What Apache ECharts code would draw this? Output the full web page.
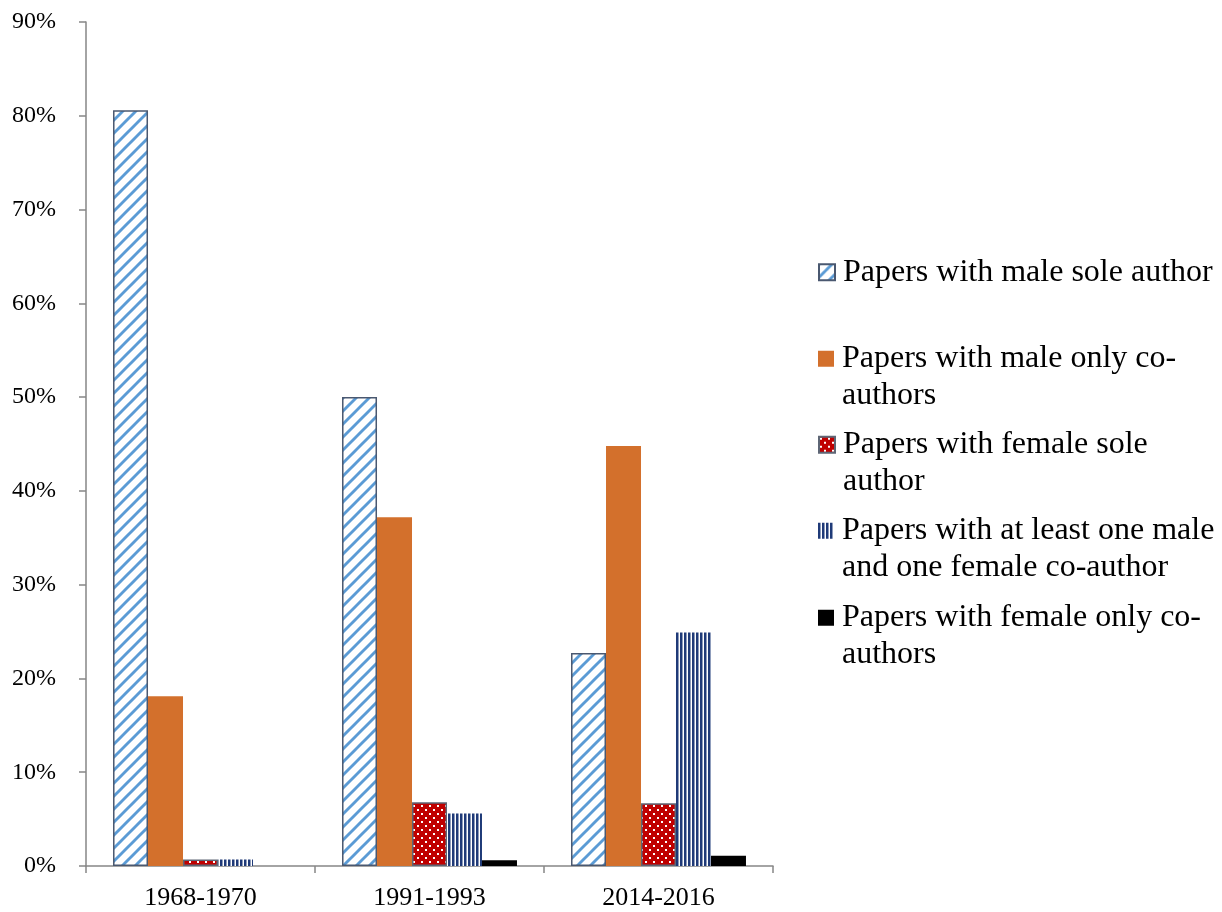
<!DOCTYPE html>
<html>
<head>
<meta charset="utf-8">
<script src="https://cdn.jsdelivr.net/npm/echarts@6/dist/echarts.min.js"></script>
<style>
  html, body { margin: 0; padding: 0; background: #ffffff; }
  #chart { width: 1222px; height: 912px; }
</style>
</head>
<body>
<div id="chart"></div>
<script>
// Share of papers by authorship gender mix, three periods (percent)
const periods = ['1968-1970', '1991-1993', '2014-2016'];
const seriesNames = [
  'Papers with male sole author',
  'Papers with male only co-authors',
  'Papers with female sole author',
  'Papers with at least one male and one female co-author',
  'Papers with female only co-authors'
];
const legendLines = [
  ['Papers with male sole author'],
  ['Papers with male only co-', 'authors'],
  ['Papers with female sole', 'author'],
  ['Papers with at least one male', 'and one female co-author'],
  ['Papers with female only co-', 'authors']
];
const maleSole = [80.6, 50.0, 22.7];
const maleOnlyCo = [18.1, 37.2, 44.8];
const femaleSole = [0.7, 6.8, 6.7];
const mixedCo = [0.7, 5.6, 24.9];
const femaleOnlyCo = [0.0, 0.6, 1.1];
const yTicks = [0, 10, 20, 30, 40, 50, 60, 70, 80, 90];

const FONT = '"Liberation Serif", "Times New Roman", serif';

function tile(w, h, draw) {
  const c = document.createElement('canvas');
  c.width = w; c.height = h;
  draw(c.getContext('2d'), w, h);
  return { image: c, repeat: 'repeat' };
}

// upward diagonal stripes on white
const diagFill = tile(13, 13, (g, w, h) => {
  g.fillStyle = '#ffffff';
  g.fillRect(0, 0, w, h);
  g.strokeStyle = '#5B9BD5';
  g.lineWidth = 2.9;
  for (let o = -w; o <= w; o += w) {
    g.beginPath();
    g.moveTo(o - 2, h + 2);
    g.lineTo(o + w + 2, -2);
    g.stroke();
  }
});

// white dots on dark red
const dotFill = tile(8, 8, (g, w, h) => {
  g.fillStyle = '#C00000';
  g.fillRect(0, 0, w, h);
  g.fillStyle = '#ffffff';
  g.fillRect(1, 1, 2, 2);
  g.fillRect(5, 5, 2, 2);
});

// narrow vertical navy stripes on white
const vertFill = tile(4, 4, (g, w, h) => {
  g.fillStyle = '#ffffff';
  g.fillRect(0, 0, w, h);
  g.fillStyle = '#1F3A78';
  g.fillRect(0, 0, 2.5, h);
});

const seriesData = [maleSole, maleOnlyCo, femaleSole, mixedCo, femaleOnlyCo];
const seriesStyles = [
  { color: diagFill, borderColor: '#4A5870', borderWidth: 1.5 },
  { color: '#D3702C' },
  { color: dotFill, borderColor: '#5E6675', borderWidth: 1.5 },
  { color: vertFill },
  { color: '#000000' }
];

const series = seriesNames.map((name, i) => ({
  name: name,
  type: 'bar',
  data: seriesData[i],
  barGap: '0%',
  barCategoryGap: '23.6%',
  itemStyle: seriesStyles[i],
  emphasis: { disabled: true }
}));

// One legend block per series. Wrapped entries get a leading blank line so the
// text block, centred on the icon, puts the first printed line level with it.
const LEGEND_LINE = 36.5;
const legendCenters = [272, 359, 445, 531, 618];
const legends = seriesNames.map((name, i) => {
  const lines = legendLines[i];
  const shown = lines.length > 1 ? [''].concat(lines) : lines;
  const half = shown.length * LEGEND_LINE / 2;
  return {
    data: [name],
    left: 818,
    top: Math.round(legendCenters[i] - half),
    padding: 0,
    orient: 'vertical',
    itemWidth: 16,
    itemHeight: 16,
    itemGap: 0,
    icon: 'rect',
    selectedMode: false,
    formatter: () => shown.join('\n'),
    textStyle: {
      fontFamily: FONT,
      fontSize: 32,
      color: '#000000',
      lineHeight: LEGEND_LINE,
      padding: [0, 0, 0, 3]
    }
  };
});

const chart = echarts.init(document.getElementById('chart'), null, { renderer: 'canvas' });
chart.setOption({
  animation: false,
  backgroundColor: '#ffffff',
  grid: { left: 86, right: 449, top: 22, bottom: 46, containLabel: false },
  legend: legends,
  xAxis: {
    type: 'category',
    data: periods,
    axisLine: { show: true, lineStyle: { color: '#868686', width: 1.5 } },
    axisTick: { show: true, length: 7, lineStyle: { color: '#868686', width: 1.5 } },
    axisLabel: { fontFamily: FONT, fontSize: 26, color: '#000000', margin: 19 }
  },
  yAxis: {
    type: 'value',
    min: yTicks[0],
    max: yTicks[yTicks.length - 1],
    interval: yTicks[1] - yTicks[0],
    axisLine: { show: true, lineStyle: { color: '#868686', width: 1.5 } },
    axisTick: { show: true, length: 7, lineStyle: { color: '#868686', width: 1.5 } },
    splitLine: { show: false },
    axisLabel: { fontFamily: FONT, fontSize: 24, color: '#000000', margin: 30, formatter: '{value}%' }
  },
  series: series
});
</script>
</body>
</html>
